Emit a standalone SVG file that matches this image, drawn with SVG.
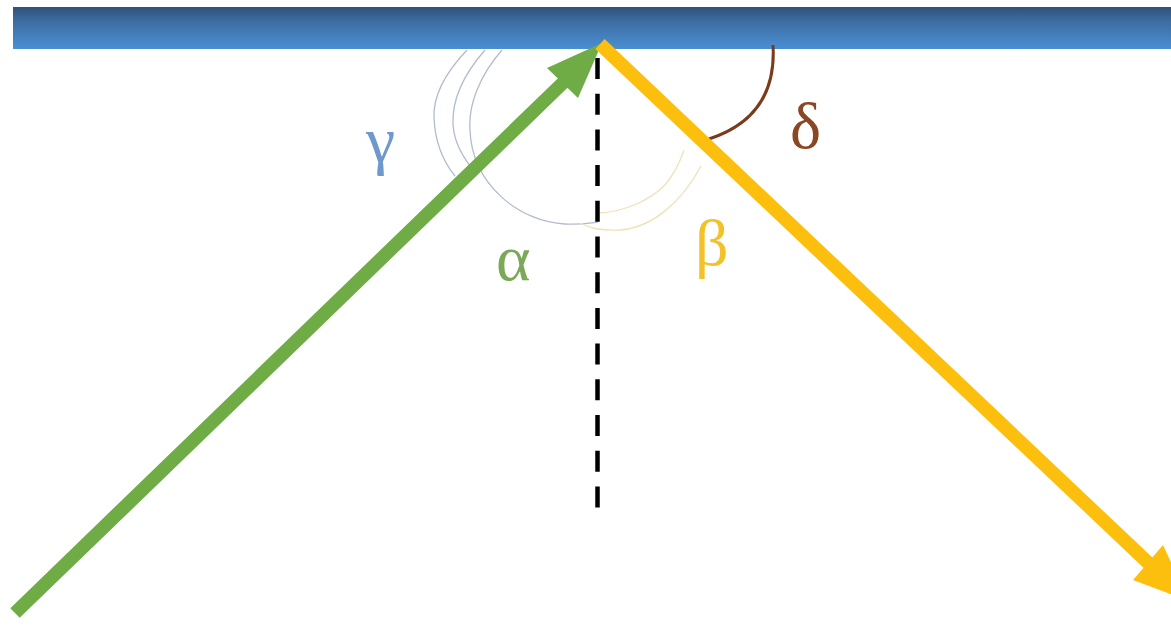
<svg xmlns="http://www.w3.org/2000/svg" width="1171" height="625" viewBox="0 0 1171 625">
  <style>
    .lbl { font-family: "Liberation Serif", "DejaVu Serif", serif; font-size: 66px; }
    .arcg { fill: none; stroke: #b3bccb; stroke-width: 1.3; }
    .arcb { fill: none; stroke: #efe2b8; stroke-width: 1.3; }
  </style>
  <defs>
    <linearGradient id="barGrad" x1="0" y1="0" x2="0" y2="1">
      <stop offset="0" stop-color="#2f5279"/>
      <stop offset="0.35" stop-color="#3d6da3"/>
      <stop offset="1" stop-color="#4a8fd3"/>
    </linearGradient>
  </defs>
  <rect width="1171" height="625" fill="#ffffff"/>

  <g id="mirror">
    <rect x="13" y="7" width="1160" height="42" fill="url(#barGrad)"/>
  </g>

  <g id="angle-arcs">
    <path class="arcg" d="M467,50 C446,72 433,95 434,118 C435,140 442,160 455,176"/>
    <path class="arcg" d="M485,50 C464,74 452,100 453,124 C454,140 460,152 470,166"/>
    <path class="arcg" d="M502,50 C480,75 468,105 470,130 C472,185 520,222 565,224 C580,225 590,223 598,222"/>
    <path class="arcb" d="M598,213 C625,212 650,200 665,185 C675,173 680,162 684,150"/>
    <path class="arcb" d="M580,223 C590,228 600,231 620,230 C650,228 680,205 701,166"/>
    <path d="M773,45 C776,95 752,125 709,139" fill="none" stroke="#7a3a1c" stroke-width="3"/>
  </g>

  <g id="connectors">
    <line id="normal" x1="597.5" y1="58" x2="597.5" y2="510" stroke="#000" stroke-width="4.5" stroke-dasharray="21 14.7"/>
    <g id="incident">
      <line x1="15" y1="613" x2="570" y2="76" stroke="#6fac46" stroke-width="13.5"/>
      <polygon points="602,43 578,98 547,68" fill="#6fac46"/>
    </g>
    <g id="reflected">
      <line x1="600" y1="44" x2="1160" y2="574" stroke="#fdbf0e" stroke-width="13.5"/>
      <polygon points="1189,601 1133,580 1163,545" fill="#fdbf0e"/>
    </g>
  </g>

  <g id="labels">
    <text id="gamma" class="lbl" x="366" y="162" fill="#6f98cc">γ</text>
    <text id="alpha" class="lbl" x="496" y="280" fill="#7ba859">α</text>
    <text id="beta" class="lbl" x="695" y="265" fill="#f3c229">β</text>
    <text id="delta" class="lbl" x="790" y="148" fill="#8a4724">δ</text>
  </g>
</svg>
